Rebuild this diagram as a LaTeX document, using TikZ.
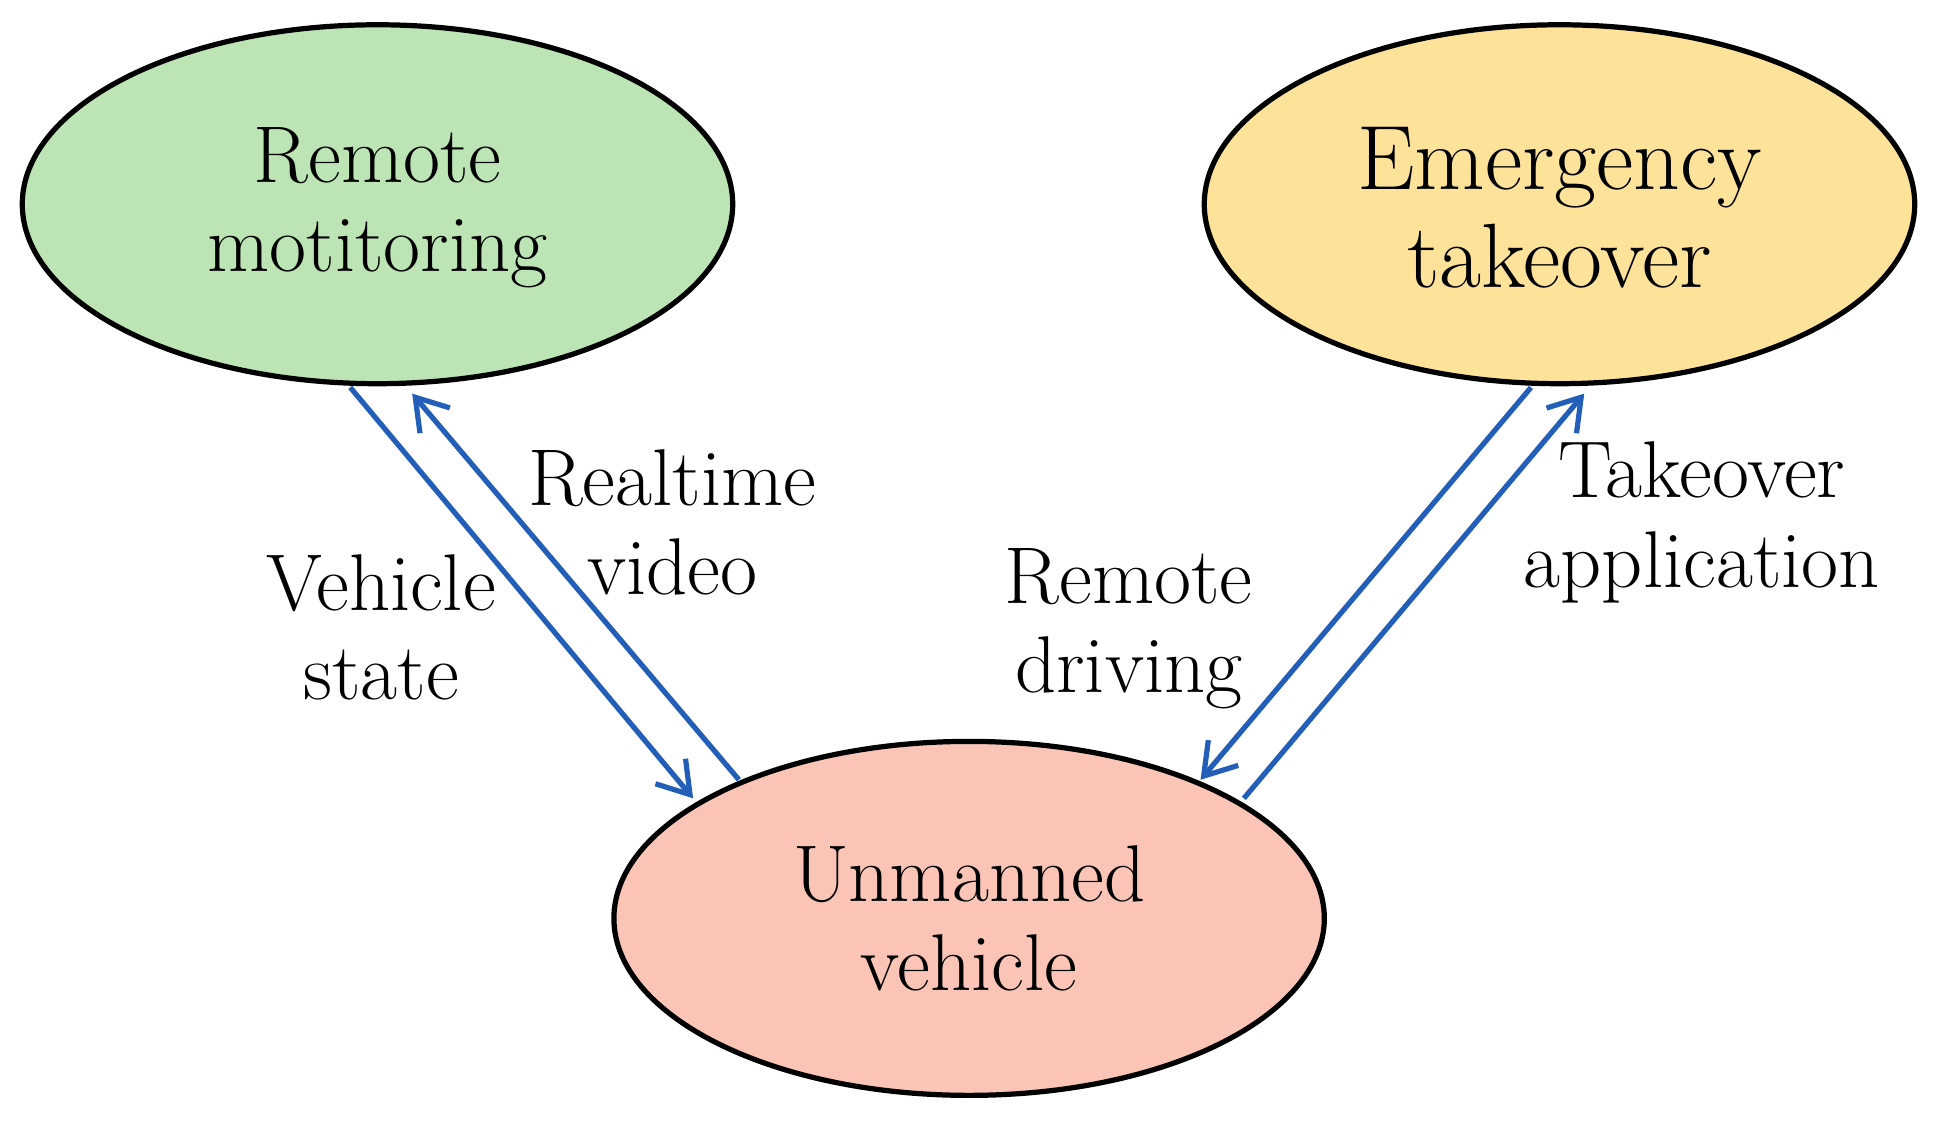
\documentclass[tikz,border=0pt]{standalone}
\usetikzlibrary{shapes.geometric,arrows.meta}
\begin{document}
\begin{tikzpicture}[x=0.01cm,y=-0.01cm,
  conn/.style={draw={rgb,255:red,35;green,95;blue,185},line width=1.2pt,-{Straight Barb[length=7pt,width=9pt]}},
  lbl/.style={align=center,font=\fontsize{18.5}{20.5}\selectfont}]
\useasboundingbox (0,0) rectangle (1565,908);
\definecolor{gfill}{RGB}{188,228,180}
\definecolor{yfill}{RGB}{253,226,153}
\definecolor{pfill}{RGB}{250,196,182}
\draw[line width=1.2pt,fill=gfill] (305,165) ellipse [x radius=287,y radius=145];
\draw[line width=1.2pt,fill=yfill] (1260,165) ellipse [x radius=287,y radius=145];
\draw[line width=1.2pt,fill=pfill] (783,742) ellipse [x radius=287,y radius=143];
\node[lbl] (rm) at (305,168) {Remote\\motitoring};
\node[lbl,font=\fontsize{21}{22.5}\selectfont] (et) at (1260,168) {Emergency\\takeover};
\node[lbl] (uv) at (783,742) {Unmanned\\vehicle};
\coordinate (a1) at (283,313); \coordinate (a2) at (560,645);
\coordinate (b1) at (597,630); \coordinate (b2) at (333,318);
\coordinate (c1) at (1237,313); \coordinate (c2) at (970,630);
\coordinate (d1) at (1005,645); \coordinate (d2) at (1280,318);
\draw[conn] (a1) -- (a2);
\draw[conn] (b1) -- (b2);
\draw[conn] (c1) -- (c2);
\draw[conn] (d1) -- (d2);
\node[lbl] (l1) at (308,507) {Vehicle\\state};
\node[lbl] (l2) at (543,422) {Realtime\\video};
\node[lbl] (l3) at (912,508) {Remote\\driving};
\node[lbl] (l4) at (1375,422) {Takeover\\application};
\end{tikzpicture}
\end{document}
